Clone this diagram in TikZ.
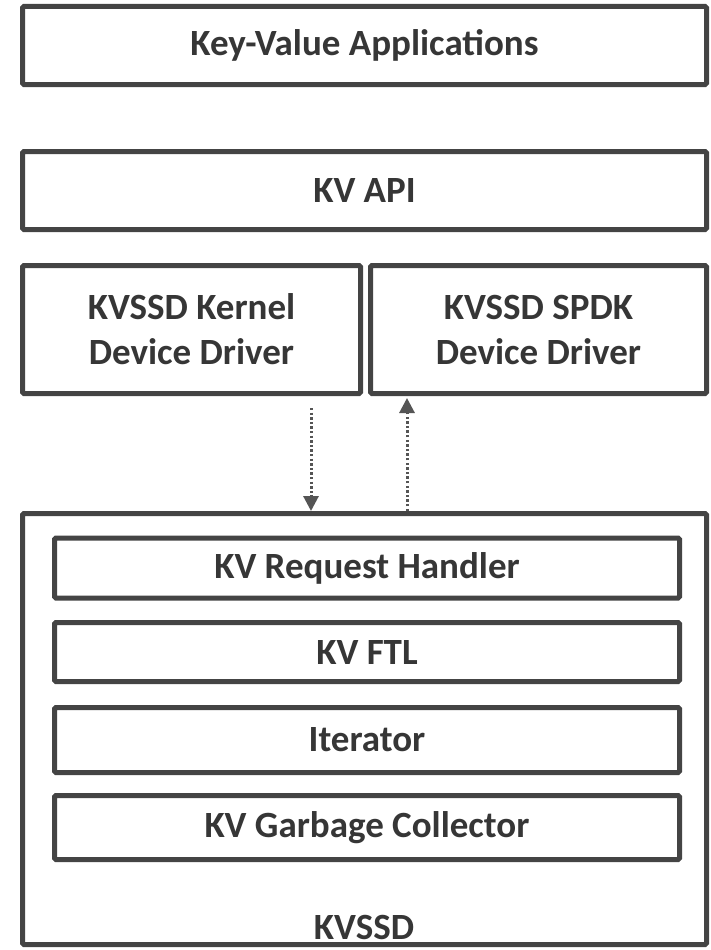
\documentclass[tikz,border=0pt]{standalone}
\usepackage{fontspec}
\setmainfont{Carlito}
\usetikzlibrary{arrows.meta}
\definecolor{edge}{HTML}{444444}
\definecolor{ink}{HTML}{363636}
\definecolor{flow}{HTML}{555555}
\begin{document}
\begin{tikzpicture}[x=1pt,y=1pt,
  labelfont/.style={font=\fontsize{37}{45}\selectfont\bfseries, text=ink},
  layer/.style={draw=edge, line width=5pt, fill=white, rounded corners=1.5pt,
    inner sep=0pt, align=center, labelfont},
  flowline/.style={draw=flow, line width=3pt, dash pattern=on 2.4pt off 2.2pt,
    -{Triangle[length=15pt,width=15pt]}}]
  \useasboundingbox (0,0) rectangle (710,-950);

  % host side
  \node[layer, minimum width=684pt, minimum height=78pt] (apps) at (364.5,-45.5) {Key-Value Applications};
  \node[layer, minimum width=684pt, minimum height=78pt] (api) at (364.5,-190.5) {KV API};
  \node[layer, minimum width=338pt, minimum height=128pt] (kernel) at (191.5,-329.5) {KVSSD Kernel\\Device Driver};
  \node[layer, minimum width=336pt, minimum height=128pt] (spdk) at (538.5,-329.5) {KVSSD SPDK\\Device Driver};

  % device side
  \node[layer, minimum width=684pt, minimum height=431pt] (kvssd) at (364.5,-729) {};
  \node[anchor=base, labelfont, inner sep=0pt] (kvlabel) at (364,-939) {KVSSD};
  \node[layer, minimum width=625pt, minimum height=60pt] (handler) at (367,-568) {KV Request Handler};
  \node[layer, minimum width=625pt, minimum height=59pt] (ftl) at (367,-652) {KV FTL};
  \node[layer, minimum width=625pt, minimum height=65pt] (iter) at (367,-740) {Iterator};
  \node[layer, minimum width=625pt, minimum height=64pt] (gc) at (367,-827.5) {KV Garbage Collector};

  % request / completion paths
  \coordinate (down) at (311,-408);
  \coordinate (up) at (407,-398);
  \draw[flowline] (down) -- (down |- kvssd.north);
  \draw[flowline] (up |- kvssd.north) -- (up);
\end{tikzpicture}
\end{document}
